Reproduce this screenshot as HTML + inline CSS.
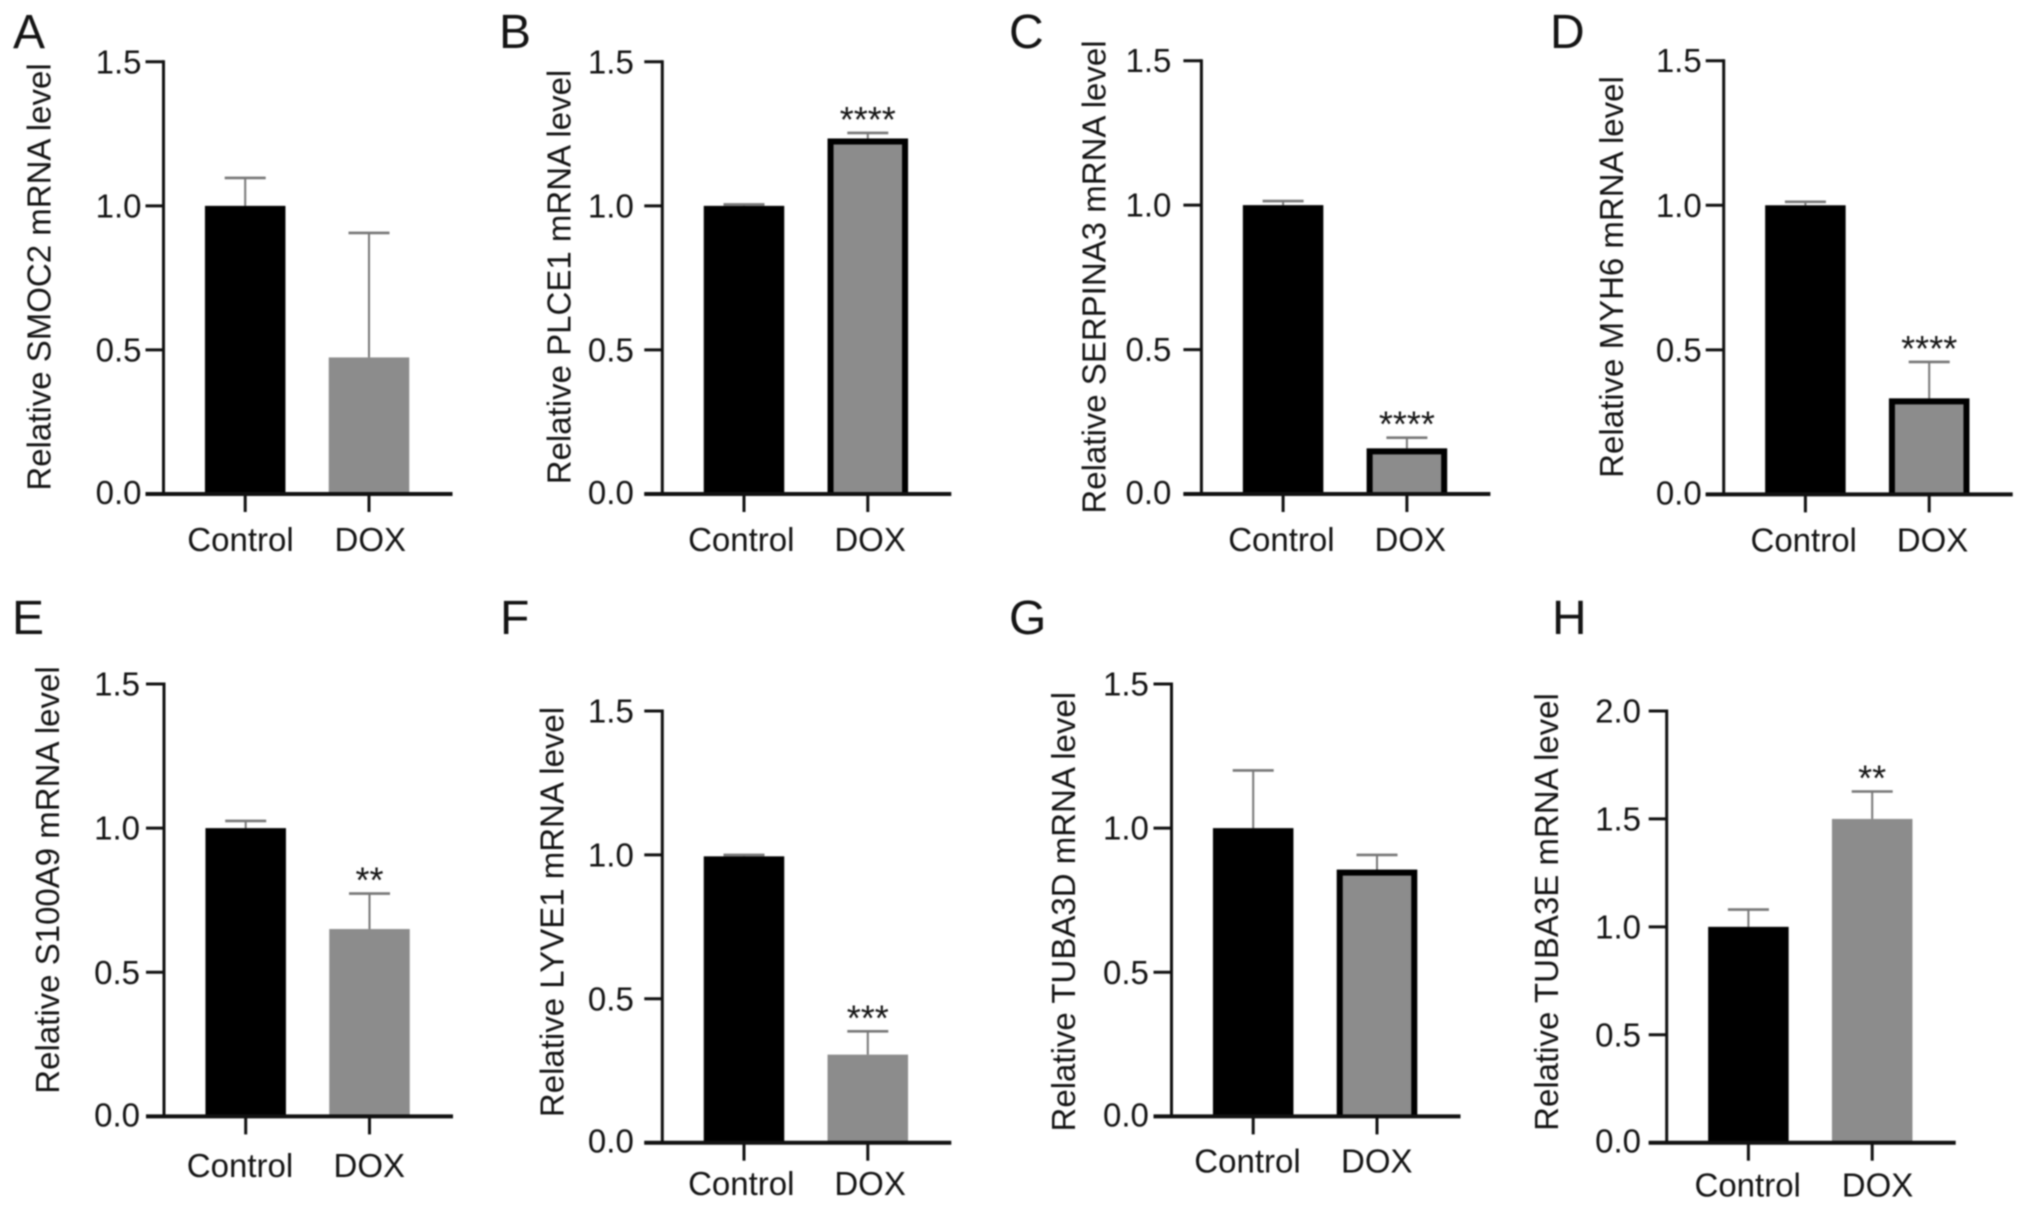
<!DOCTYPE html>
<html lang="en">
<head>
<meta charset="utf-8">
<title>Relative mRNA levels, Control vs DOX</title>
<style>
html,body{margin:0;padding:0;background:#fff;width:2032px;height:1211px;overflow:hidden}
svg{display:block;filter:blur(0.75px)}
text{font-family:"Liberation Sans",Arial,sans-serif;fill:#141414}
</style>
</head>
<body>
<svg id="figure" xmlns="http://www.w3.org/2000/svg" width="2032" height="1211" viewBox="0 0 2032 1211"></svg>
<script>
// ---- chart data ----
const panelLetters = ['A','B','C','D','E','F','G','H'];
const categories = ['Control','DOX'];
const geneNames = ['SMOC2','PLCE1','SERPINA3','MYH6','S100A9','LYVE1','TUBA3D','TUBA3E'];
const controlValues = [1.0,1.0,1.0,1.0,1.0,0.995,1.0,1.0];
const doxValues = [0.474,1.234,0.158,0.332,0.65,0.306,0.856,1.5];
const controlErrorTops = [1.097,1.005,1.014,1.012,1.025,1.0,1.2,1.08];
const doxErrorTops = [0.906,1.253,0.195,0.458,0.773,0.387,0.907,1.627];
const significance = ['','****','****','****','**','***','','**'];
const doxOutlined = [false,true,true,true,false,false,true,false];
const axisMaxima = [1.5,1.5,1.5,1.5,1.5,1.5,1.5,2.0];
const yTicksStandard = ['0.0','0.5','1.0','1.5'];
const yTicksWide = ['0.0','0.5','1.0','1.5','2.0'];

// ---- panel placement (layout only) ----
const panelAxisX = [163.5,662.3,1201.4,1723.7,164,662.3,1171.5,1666.7];
const panelTopY = [61.8,61.8,60.7,60.7,684,711,684,711];
const panelBaseY = [494,494,494,494.4,1116.4,1142.7,1116.4,1142.7];
const titleBaselineX = [50.5,570.5,1105.7,1623.2,58.8,563.3,1075.1,1557.9];
const titleCenterY = [277,277,277,277,880,912,911.7,912];
const tickLabelGap = [22,28.5,30,22,24,28.5,22.6,25.7];
const letterX = [13,499,1009,1550,12,500,1009,1552];
const letterY = [48,48,48,48,634,634,634,634];
const categoryLabelDrop = [57,57,57,57,60.7,52.5,56,54];
const controlLabelShift = [0,2,3,3,-1,2,-1,4];
const doxLabelShift = [0,1,2,2,-1.5,1,-1.5,4];

const NS = 'http://www.w3.org/2000/svg';
const root = document.getElementById('figure');
const BAR_W = 80.5, FIRST_BAR = 81.7, BAR_STEP = 123.8;

function make(tag, attrs, parent, content) {
  const node = document.createElementNS(NS, tag);
  for (const k in attrs) node.setAttribute(k, attrs[k]);
  if (content !== undefined) node.textContent = content;
  parent.appendChild(node);
  return node;
}

panelLetters.forEach(function (letter, p) {
  const x0 = panelAxisX[p], top = panelTopY[p], base = panelBaseY[p];
  const yScale = function (v) { return base - (v / axisMaxima[p]) * (base - top); };
  const xScale = function (i) { return x0 + FIRST_BAR + i * BAR_STEP; };
  const ticks = axisMaxima[p] === 2.0 ? yTicksWide : yTicksStandard;
  let el;

  const g = make('g', {}, root);
  
  

  el = make('text', {x: letterX[p], y: letterY[p], 'font-size': 48}, g, letter);
  
  

  el = make('text', {
    x: 0, y: 0, 'font-size': 33, 'text-anchor': 'middle',
    transform: 'translate(' + titleBaselineX[p] + ',' + titleCenterY[p] + ') rotate(-90)'
  }, g, 'Relative ' + geneNames[p] + ' mRNA level');
  
  

  // error bars are drawn first so the bars sit over their lower half
  const values = [controlValues[p], doxValues[p]];
  const errorTops = [controlErrorTops[p], doxErrorTops[p]];
  values.forEach(function (v, i) {
    const cx = xScale(i), yErr = yScale(errorTops[i]);
    el = make('line', {x1: cx, x2: cx, y1: yErr, y2: yScale(v), stroke: '#777', 'stroke-width': 2}, g);
    
    
    el = make('line', {x1: cx - 20.5, x2: cx + 20.5, y1: yErr, y2: yErr, stroke: '#777', 'stroke-width': 2.6}, g);
    
    
  });

  // control bar
  el = make('rect', {
    x: xScale(0) - BAR_W / 2, y: yScale(values[0]), width: BAR_W,
    height: base - yScale(values[0]), fill: '#000'
  }, g);
  
  

  // DOX bar
  const doxLeft = xScale(1) - BAR_W / 2, doxTop = yScale(values[1]);
  el = make('rect', {
    x: doxLeft, y: doxTop, width: BAR_W, height: base - doxTop, fill: '#8c8c8c'
  }, g);
  
  

  // outlined DOX bars have a black frame that merges into the x axis
  if (doxOutlined[p]) {
    el = make('path', {
      d: 'M' + (doxLeft + 3) + ' ' + base + 'V' + (doxTop + 3) + 'H' + (doxLeft + BAR_W - 3) + 'V' + base,
      fill: 'none', stroke: '#000', 'stroke-width': 6
    }, g);
    
    
  }

  // y axis
  el = make('line', {x1: x0, x2: x0, y1: top - 1.5, y2: base, stroke: '#111', 'stroke-width': 3}, g);
  
  

  ticks.forEach(function (label) {
    const ty = yScale(parseFloat(label));
    el = make('line', {x1: x0 - 18, x2: x0, y1: ty, y2: ty, stroke: '#111', 'stroke-width': 3}, g);
    
    
    el = make('text', {
      x: x0 - tickLabelGap[p], y: ty + (parseFloat(label) === 0 ? 10 : 11.5),
      'font-size': 33, 'text-anchor': 'end'
    }, g, label);
    
    
  });

  // x axis
  el = make('line', {x1: x0 - 18, x2: x0 + 289, y1: base, y2: base, stroke: '#111', 'stroke-width': 4}, g);
  
  

  categories.forEach(function (cat, i) {
    el = make('line', {x1: xScale(i), x2: xScale(i), y1: base, y2: base + 18, stroke: '#111', 'stroke-width': 3}, g);
    
    
    el = make('text', {
      x: xScale(i) + (i === 0 ? -4.7 + controlLabelShift[p] : 1.3 + doxLabelShift[p]), y: base + categoryLabelDrop[p],
      'font-size': 33, 'text-anchor': 'middle'
    }, g, cat);
    
    
  });

  if (significance[p]) {
    el = make('text', {
      x: xScale(1), y: yScale(doxErrorTops[p]) - 1,
      'font-size': 36, 'text-anchor': 'middle'
    }, g, significance[p]);
    
    
  }
});
</script>
</body>
</html>
